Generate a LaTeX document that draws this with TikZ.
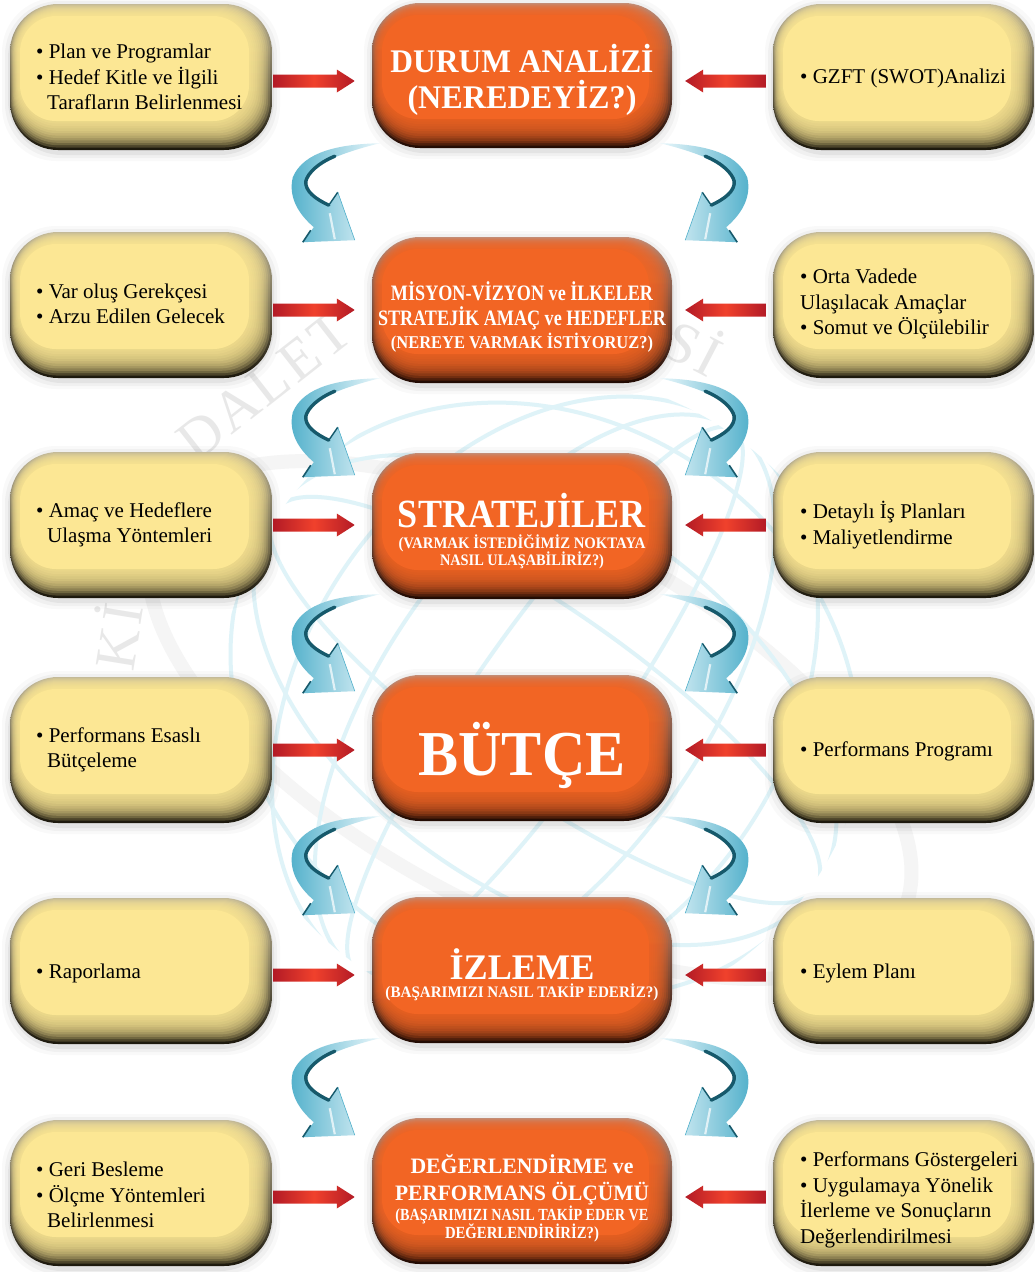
\documentclass[tikz,border=0pt]{standalone}
\usepackage{fontspec}
\setmainfont{Liberation Serif}
\usetikzlibrary{calc}
\definecolor{ymain}{HTML}{FCE794}
\definecolor{ytop}{HTML}{C4BA98}
\definecolor{ybot}{HTML}{1C180C}
\definecolor{omain}{HTML}{F26524}
\definecolor{otop}{HTML}{C48C74}
\definecolor{obot}{HTML}{220A02}
\definecolor{rdark}{HTML}{B31B26}
\definecolor{rlight}{HTML}{F0412C}
\definecolor{bdark}{HTML}{16596B}
\definecolor{bcyan}{HTML}{4FAFCA}
\definecolor{bmid}{HTML}{A6DCEA}
\definecolor{blight}{HTML}{EAF7FB}
\definecolor{globecol}{HTML}{DFF3F8}
\definecolor{wmark}{HTML}{E8E8E8}
\newcommand\fitw[2]{\resizebox{#1pt}{\height}{#2}}
\newcommand\ind{\hspace*{11pt}}
% #1 name, #2 x1, #3 y1, #4 x2, #5 y2, #6 top, #7 bottom, #8 main
\newcommand\bevelbox[8]{%
  \foreach \sa/\op in {8/0.025,5/0.035,2/0.05}{%
    \fill[black,opacity=\op,rounded corners=54] (#2-\sa,#3-\sa+2) rectangle (#4+\sa,#5+\sa+3);}%
  \shade[top color=#6,bottom color=#7,rounded corners=48] (#2,#3) rectangle (#4,#5);%
  \foreach \i in {1,...,12}{%
    \pgfmathsetmacro\rc{48-\i*0.9}%
    \fill[#8,opacity=0.2,rounded corners=\rc] (#2+\i*0.8,#3+\i*1.0) rectangle (#4-\i*1.9,#5-\i*2.4);}%
  \fill[#8,rounded corners=36] (#2+10,#3+12) rectangle (#4-23,#5-29);%
  \node[inner sep=0pt,minimum width={#4-#2},minimum height={#5-#3}] (#1) at ({(#2+#4)/2},{(#3+#5)/2}) {};%
}
\newcommand\ybox[5]{\bevelbox{#1}{#2}{#3}{#4}{#5}{ytop}{ybot}{ymain}}
\newcommand\obox[5]{\bevelbox{#1}{#2}{#3}{#4}{#5}{otop}{obot}{omain}}
\newcommand\ctl[5]{\node[ctext,font=\bfseries\fontsize{#3}{#3}\selectfont] (#1) at (522,#2) {\fitw{#4}{#5}};}
\newcommand\redR[2]{\shade[rarrow] ($(#1)+(0,-6.5)$) -- ($(#2)+(-18,-6.5)$) -- ($(#2)+(-18,-11.5)$) -- (#2) -- ($(#2)+(-18,11.5)$) -- ($(#2)+(-18,6.5)$) -- ($(#1)+(0,6.5)$) -- cycle;}
\newcommand\redL[2]{\shade[rarrow] ($(#1)+(0,-6.5)$) -- ($(#2)+(18,-6.5)$) -- ($(#2)+(18,-11.5)$) -- (#2) -- ($(#2)+(18,11.5)$) -- ($(#2)+(18,6.5)$) -- ($(#1)+(0,6.5)$) -- cycle;}
% #1 start coordinate, #2 xscale (1 or -1), #3 shading style
\newcommand\bluearrow[3]{%
  \begin{scope}[shift={(#1)},xscale=#2]
    \shade[#3] (0,0) .. controls (-40,1) and (-76,8) .. (-87,34)
      .. controls (-92,55) and (-80,72) .. (-66,84)
      -- (-77,99) -- (-25,97) -- (-42,49) -- (-51,62)
      .. controls (-64,56) and (-75,48) .. (-74,38)
      .. controls (-70,22) and (-40,10) .. (0,0) -- cycle;
    \draw[bdark,line width=3.4,line cap=round] (-51,62) .. controls (-64,56) and (-75,48) .. (-74,38) .. controls (-72,30) and (-62,20) .. (-45,13);
    \draw[bdark,line width=1.4] (-42,49) -- (-51,62);
    \draw[bdark,line width=1.6] (-69,87) -- (-77,99);
    \draw[white,opacity=0.7,line width=2.2] (-50,70) -- (-45,96);
    \draw[bcyan,line width=0.6] (-25,97) -- (-42,49);
  \end{scope}}
\tikzset{
  ytext/.style={anchor=west,inner sep=0pt,align=left,font=\fontsize{21}{25.5}\selectfont,text=black},
  ctext/.style={anchor=base,inner sep=0pt,text=white},
  wm/.style={inner sep=0pt,text=wmark,font=\fontsize{58}{58}\selectfont},
  rarrow/.style={left color=rdark,right color=rdark,middle color=rlight},
  blueL/.style={left color=bcyan,middle color=bmid,right color=blight},
  blueR/.style={left color=blight,middle color=bmid,right color=bcyan},
}
\begin{document}
\begin{tikzpicture}[x=1pt,y=-1pt]
\useasboundingbox (0,0) rectangle (1034,1272);
\fill[white] (0,0) rectangle (1034,1272);
% faint watermark: orbit swoosh, globe and lettering
\draw[black!4,line width=14,rotate around={-28:(530,720)}] (530,720) ellipse (420 and 190);
\begin{scope}
  \clip (545,700) circle (325);
  \foreach \r in {70,160,240}
    \draw[globecol,line width=4,rotate around={-35:(545,700)}] (545,700) ellipse ({\r} and 330);
  \foreach \r in {90,190,280}
    \draw[globecol,line width=4,rotate around={-35:(545,700)}] (545,700) ellipse (330 and {\r});
\end{scope}
\node[wm,rotate=80.75] (wmA) at (115,636) {\addfontfeature{LetterSpace=8}Kİ};
\node[wm,rotate=38] (wmB) at (264,386) {\addfontfeature{LetterSpace=5}DALET};
\node[wm,rotate=-27.5] (wmC) at (695,345) {\addfontfeature{LetterSpace=6}Sİ};
% boxes
\ybox{L1}{10}{4}{272}{150}   \obox{C1}{372}{3}{672}{148}     \ybox{R1}{773}{4}{1034}{150}
\ybox{L2}{10}{232}{272}{378} \obox{C2}{372}{237}{672}{383}   \ybox{R2}{773}{232}{1034}{378}
\ybox{L3}{10}{452}{272}{598} \obox{C3}{372}{453}{672}{599}   \ybox{R3}{773}{452}{1034}{598}
\ybox{L4}{10}{677}{272}{823} \obox{C4}{372}{675}{672}{821}   \ybox{R4}{773}{677}{1034}{823}
\ybox{L5}{10}{898}{272}{1044} \obox{C5}{372}{897}{672}{1043} \ybox{R5}{773}{898}{1034}{1044}
\ybox{L6}{10}{1120}{272}{1266} \obox{C6}{372}{1118}{672}{1264} \ybox{R6}{773}{1120}{1034}{1266}
% side texts
\node[ytext] (tL1) at (36,77) {• Plan ve Programlar\\• Hedef Kitle ve İlgili\\\ind Tarafların Belirlenmesi};
\node[ytext] (tL2) at (36,304) {• Var oluş Gerekçesi\\• Arzu Edilen Gelecek};
\node[ytext] (tL3) at (36,525) {• Amaç ve Hedeflere\\\ind Ulaşma Yöntemleri};
\node[ytext] (tL4) at (36,750) {• Performans Esaslı\\\ind Bütçeleme};
\node[ytext] (tL5) at (36,973) {• Raporlama};
\node[ytext] (tL6) at (36,1195) {• Geri Besleme\\• Ölçme Yöntemleri\\\ind Belirlenmesi};
\node[ytext] (tR1) at (800,78) {• GZFT (SWOT)Analizi};
\node[ytext] (tR2) at (800,304) {• Orta Vadede\\Ulaşılacak Amaçlar\\• Somut ve Ölçülebilir};
\node[ytext] (tR3) at (800,525) {• Detaylı İş Planları\\• Maliyetlendirme};
\node[ytext] (tR4) at (800,751) {• Performans Programı};
\node[ytext] (tR5) at (800,973) {• Eylem Planı};
\node[ytext] (tR6) at (800,1200) {• Performans Göstergeleri\\• Uygulamaya Yönelik\\İlerleme ve Sonuçların\\Değerlendirilmesi};
% centre texts
\ctl{c1a}{72}{33}{263}{DURUM ANALİZİ}
\ctl{c1b}{108}{33}{229}{(NEREDEYİZ?)}
\ctl{c2a}{300}{22}{262}{MİSYON-VİZYON ve İLKELER}
\ctl{c2b}{325}{22}{288}{STRATEJİK AMAÇ ve HEDEFLER}
\ctl{c2c}{348}{18}{262}{(NEREYE VARMAK İSTİYORUZ?)}
\ctl{c3a}{527}{40}{248}{STRATEJİLER}
\ctl{c3b}{548}{16}{247}{(VARMAK İSTEDİĞİMİZ NOKTAYA}
\ctl{c3c}{565}{16}{164}{NASIL ULAŞABİLİRİZ?)}
\ctl{c4a}{775}{64}{207}{BÜTÇE}
\ctl{c5a}{979}{36}{145}{İZLEME}
\ctl{c5b}{997}{16}{273}{(BAŞARIMIZI NASIL TAKİP EDERİZ?)}
\ctl{c6a}{1173}{22}{223}{DEĞERLENDİRME ve}
\ctl{c6b}{1200}{22}{254}{PERFORMANS ÖLÇÜMÜ}
\ctl{c6c}{1220}{17}{253}{(BAŞARIMIZI NASIL TAKİP EDER VE}
\ctl{c6d}{1238}{17}{154}{DEĞERLENDİRİRİZ?)}
% red arrows
\foreach \k/\d in {1/4,2/5,3/0,4/0,5/4,6/4}{
  \coordinate (la\k) at ($(L\k.east)+(1,\d)$);
  \coordinate (lt\k) at ($(C\k.west |- la\k)+(-17,0)$);
  \coordinate (ra\k) at ($(R\k.west)+(-7,\d)$);
  \coordinate (rt\k) at ($(C\k.east |- ra\k)+(13,0)$);
  \redR{la\k}{lt\k}
  \redL{ra\k}{rt\k}
}
% blue curved arrows between centre boxes
\foreach \k in {1,...,5}{
  \coordinate (bl\k) at ($(C\k.south west)+(8,-5)$);
  \coordinate (br\k) at ($(C\k.south east)+(-12,-5)$);
  \bluearrow{bl\k}{1}{blueL}
  \bluearrow{br\k}{-1}{blueR}
}
\end{tikzpicture}
\end{document}
